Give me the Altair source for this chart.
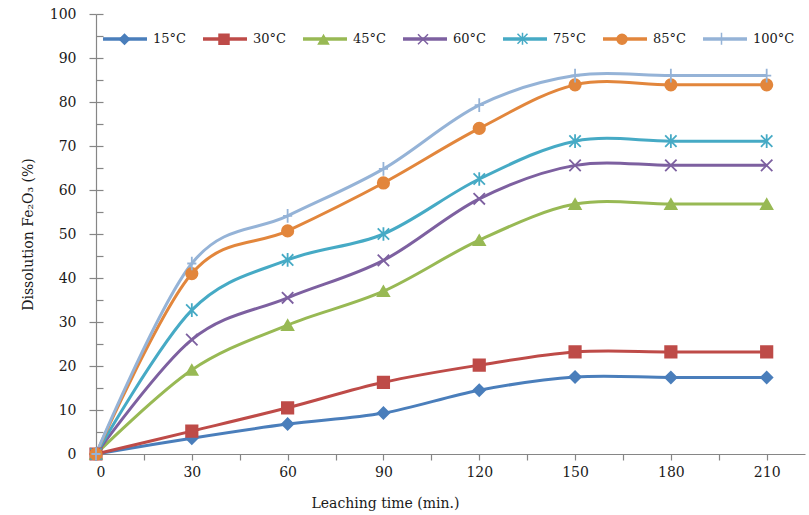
import altair as alt
import pandas as pd

times = [0, 30, 60, 90, 120, 150, 180, 210]
series = ["15°C", "30°C", "45°C", "60°C", "75°C", "85°C", "100°C"]
v15 = [0, 3.6, 6.8, 9.3, 14.5, 17.5, 17.4, 17.4]
v30 = [0, 5.2, 10.5, 16.3, 20.2, 23.2, 23.2, 23.2]
v45 = [0, 19.1, 29.3, 37.0, 48.6, 56.8, 56.8, 56.8]
v60 = [0, 26.0, 35.5, 44.0, 58.0, 65.6, 65.6, 65.6]
v75 = [0, 32.7, 44.1, 50.0, 62.5, 71.1, 71.1, 71.1]
v85 = [0, 41.0, 50.7, 61.6, 74.0, 83.9, 83.9, 83.9]
v100 = [0, 43.3, 54.1, 64.8, 79.3, 86.0, 86.0, 86.0]
values = [v15, v30, v45, v60, v75, v85, v100]

colors = ["#4A7EBB", "#BE4B48", "#98B954", "#7D60A0", "#46AAC5", "#E2863C", "#95B3D7"]
shapes = [
    "diamond",
    "square",
    "triangle-up",
    "M-1,-1L1,1M-1,1L1,-1",
    "M-1,-1L1,1M-1,1L1,-1M0,-1.2L0,1.2",
    "circle",
    "M0,-1.2L0,1.2M-0.8,0L0.8,0",
]

rows = []
for i, (name, vals) in enumerate(zip(series, values)):
    for t, v in zip(times, vals):
        rows.append({"T": name, "order": i, "time": t, "value": v})
df = pd.DataFrame(rows)

FONT = "DejaVu Serif"
AXC = "#868686"
TXT = "#1a1a1a"

x_enc = alt.X(
    "time:Q",
    scale=alt.Scale(domain=[0, 222], nice=False, zero=False),
    axis=alt.Axis(
        values=list(range(0, 211, 15)),
        labelExpr="datum.value % 30 == 0 ? datum.label : ''",
        title="Leaching time (min.)",
        titleX=289,
        titleAnchor="start",
        titleAlign="center",
        grid=False,
        tickSize=6,
        labelPadding=5,
        titlePadding=17,
    ),
)
y_enc = alt.Y(
    "value:Q",
    scale=alt.Scale(domain=[0, 100], nice=False),
    axis=alt.Axis(
        values=list(range(0, 101, 10)),
        title="Dissolution Fe₂O₃ (%)",
        grid=False,
        tickSize=7,
        labelPadding=13,
        titlePadding=14,
    ),
)

color_scale = alt.Scale(domain=series, range=colors)
LINE_W = 44
legend_common = dict(
    orient="none",
    direction="horizontal",
    columns=7,
    title=None,
    gridAlign="all",
    padding=0,
    labelFont=FONT,
    labelFontSize=13,
    labelColor=TXT,
)

lines = alt.Chart(df).mark_line(interpolate="cardinal", strokeWidth=3).encode(
    x=x_enc,
    y=y_enc,
    color=alt.Color(
        "T:N",
        scale=color_scale,
        sort=series,
        legend=alt.Legend(
            symbolType="stroke",
            symbolStrokeWidth=3.5,
            symbolSize=LINE_W * LINE_W,
            legendX=5,
            legendY=1,
            columnPadding=1,
            labelOffset=4,
            **legend_common,
        ),
    ),
    order=alt.Order("order:Q"),
    detail="order:Q",
)

pt_legend = alt.Legend(
    symbolSize=100,
    symbolStrokeWidth=1.5,
    legendX=22,
    legendY=18,
    columnPadding=82.5,
    labelOffset=0,
    labelExpr="''",
    **legend_common,
)

points = alt.Chart(df).mark_point(filled=True, size=130, strokeWidth=1.8, opacity=1).encode(
    x="time:Q",
    y=alt.Y("value:Q", axis=None),
    color=alt.Color("T:N", scale=color_scale, sort=series, legend=pt_legend),
    stroke=alt.Stroke("T:N", scale=color_scale, sort=series, legend=pt_legend),
    shape=alt.Shape("T:N", scale=alt.Scale(domain=series, range=shapes), sort=series, legend=pt_legend),
)

minor = alt.Chart(df).mark_point(opacity=0).encode(
    x="time:Q",
    y=alt.Y(
        "value:Q",
        axis=alt.Axis(
            orient="left",
            values=list(range(0, 101, 5)),
            offset=-7,
            tickSize=7,
            labels=False,
            domain=False,
            grid=False,
            title=None,
        ),
    ),
)

chart = (
    alt.layer(lines, points, minor)
    .resolve_scale(color="independent", stroke="independent", shape="independent")
    .resolve_axis(y="independent")
    .properties(
        width=709,
        height=440,
        padding={"left": 96, "top": 14, "right": 4, "bottom": 61},
        autosize="none",
        background="white",
    )
    .configure_view(stroke=None)
    .configure_axis(
        domainColor=AXC,
        tickColor=AXC,
        domainWidth=1.2,
        tickWidth=1.2,
        labelFont=FONT,
        labelFontSize=14,
        labelColor=TXT,
        titleFont=FONT,
        titleFontSize=14,
        titleFontWeight="normal",
        titleColor=TXT,
    )
)

chart.save("out.html", embed_options={"renderer": "svg", "actions": False})
